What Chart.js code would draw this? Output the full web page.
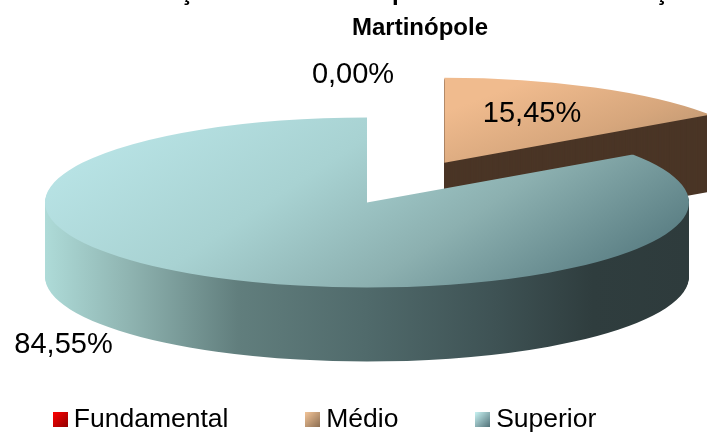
<!DOCTYPE html>
<html>
<head>
<meta charset="utf-8">
<style>html,body{margin:0;padding:0;background:#fff;overflow:hidden}canvas{display:block}</style>
<script src="https://cdn.jsdelivr.net/npm/chart.js@4"></script>
</head>
<body>
<canvas id="c" width="707" height="432"></canvas>
<script>
const categories = ['Fundamental', 'Médio', 'Superior'];
const values = [0.00, 15.45, 84.55];
const explode = [0, 0.515, 0];
const titleLines = ['Distribuição dos Docentes por Nível de Escolarização em   ', 'Martinópole'];
const legendColors = [['#ff0000', '#8f0000'], ['#f2c498', '#8a6c50'], ['#c8f2f2', '#4f6f76']];

const view = {cx: 367, cy: 202.5, rx: 322, ry: 85, depths: [74, 77, 74], lift: -1};
const labelAnchors = [[353, 75], [532, 114], [63.5, 345]];

function marker(i) {
  const m = document.createElement('canvas');
  m.width = 15; m.height = 15;
  const x = m.getContext('2d');
  const g = x.createLinearGradient(0, 0, 15, 15);
  g.addColorStop(0, legendColors[i][0]);
  g.addColorStop(1, legendColors[i][1]);
  x.fillStyle = g;
  x.fillRect(0, 0, 15, 15);
  return m;
}

function stops(g, list) { list.forEach(s => g.addColorStop(s[0], s[1])); return g; }

const pie3d = {
  id: 'pie3d',
  afterLayout(chart) {
    const l = chart.legend;
    l.left = -24; l.right = 800; l.width = 824;
    l.top = 322; l.height = 195.5; l.bottom = 517.5;
  },
  beforeDatasetsDraw(chart) {
    const ctx = chart.ctx;
    const arcs = chart.getDatasetMeta(0).data;
    const drawArc = (el, i, depth, fill) => {
      const R = el.outerRadius;
      const mid = (el.startAngle + el.endAngle) / 2;
      const e = explode[i] * R;
      const sx = view.rx / R, sy = view.ry / R;
      const saved = el.options;
      const o = Object.create(saved);
      o.backgroundColor = fill(ctx, el.x, el.y, R);
      o.borderWidth = 0;
      el.options = o;
      ctx.save();
      ctx.translate(view.cx, view.cy + depth + (e ? view.lift : 0));
      ctx.scale(sx, sy);
      ctx.translate(Math.cos(mid) * e - el.x, Math.sin(mid) * e - el.y);
      el.draw(ctx);
      ctx.restore();
      el.options = saved;
    };
    const sides = [
      () => '#d00000',
      () => '#4a3526',
      (c, x, y, R) => stops(c.createLinearGradient(x - R, 0, x + R, 0), [
        [0, '#aedbd8'], [0.13, '#8fb4b1'], [0.3, '#617e7d'], [0.5, '#506a6b'],
        [0.7, '#3e5254'], [0.85, '#2f3d3e'], [1, '#2e3b3c']])
    ];
    const tops = [
      () => '#f00000',
      (c, x, y, R) => stops(c.createLinearGradient(x, y - R * 0.6, x + R * 0.85, y), [
        [0, '#f0bb8e'], [0.5, '#d6a67c'], [1, '#ae8c6a']]),
      (c, x, y, R) => stops(c.createLinearGradient(x - R, y - R * 0.3, x + R, y + R * 0.5), [
        [0, '#b8e3e5'], [0.35, '#a8d2d2'], [0.65, '#8cb0b0'], [1, '#55797f']])
    ];
    [1, 2, 0].forEach(i => {
      for (let d = view.depths[i]; d >= 1; d--) drawArc(arcs[i], i, d, sides[i]);
      drawArc(arcs[i], i, 0, tops[i]);
    });
    return false;
  },
  afterDraw(chart) {
    const ctx = chart.ctx;
    ctx.save();
    ctx.font = '29px "Liberation Sans", Arial, sans-serif';
    ctx.fillStyle = '#000';
    ctx.textAlign = 'center';
    ctx.textBaseline = 'middle';
    values.forEach((v, i) => {
      ctx.fillText(v.toFixed(2).replace('.', ',') + '%', labelAnchors[i][0], labelAnchors[i][1]);
    });
    ctx.restore();
  }
};

new Chart(document.getElementById('c'), {
  type: 'pie',
  data: {
    labels: categories,
    datasets: [{data: values, backgroundColor: ['#e00000', '#e0b080', '#a0d0d0'], borderWidth: 0}]
  },
  options: {
    responsive: false,
    animation: false,
    radius: 100,
    events: [],
    layout: {padding: {left: -24, right: -157, top: -24.5, bottom: -84}},
    plugins: {
      tooltip: {enabled: false},
      title: {
        display: true,
        text: titleLines,
        color: '#000',
        padding: 0,
        font: {family: '"Liberation Sans", Arial, sans-serif', size: 24, weight: 'bold', lineHeight: 1.458}
      },
      legend: {
        display: true,
        position: 'bottom',
        align: 'start',
        labels: {
          boxWidth: 0.01,
          usePointStyle: true,
          padding: 84.5,
          color: '#000',
          font: {family: '"Liberation Sans", Arial, sans-serif', size: 26.5},
          generateLabels: () => categories.map((t, i) => ({
            text: t, pointStyle: marker(i), index: i, datasetIndex: 0, hidden: false, lineWidth: 0
          }))
        }
      }
    }
  },
  plugins: [pie3d]
});
</script>
</body>
</html>
